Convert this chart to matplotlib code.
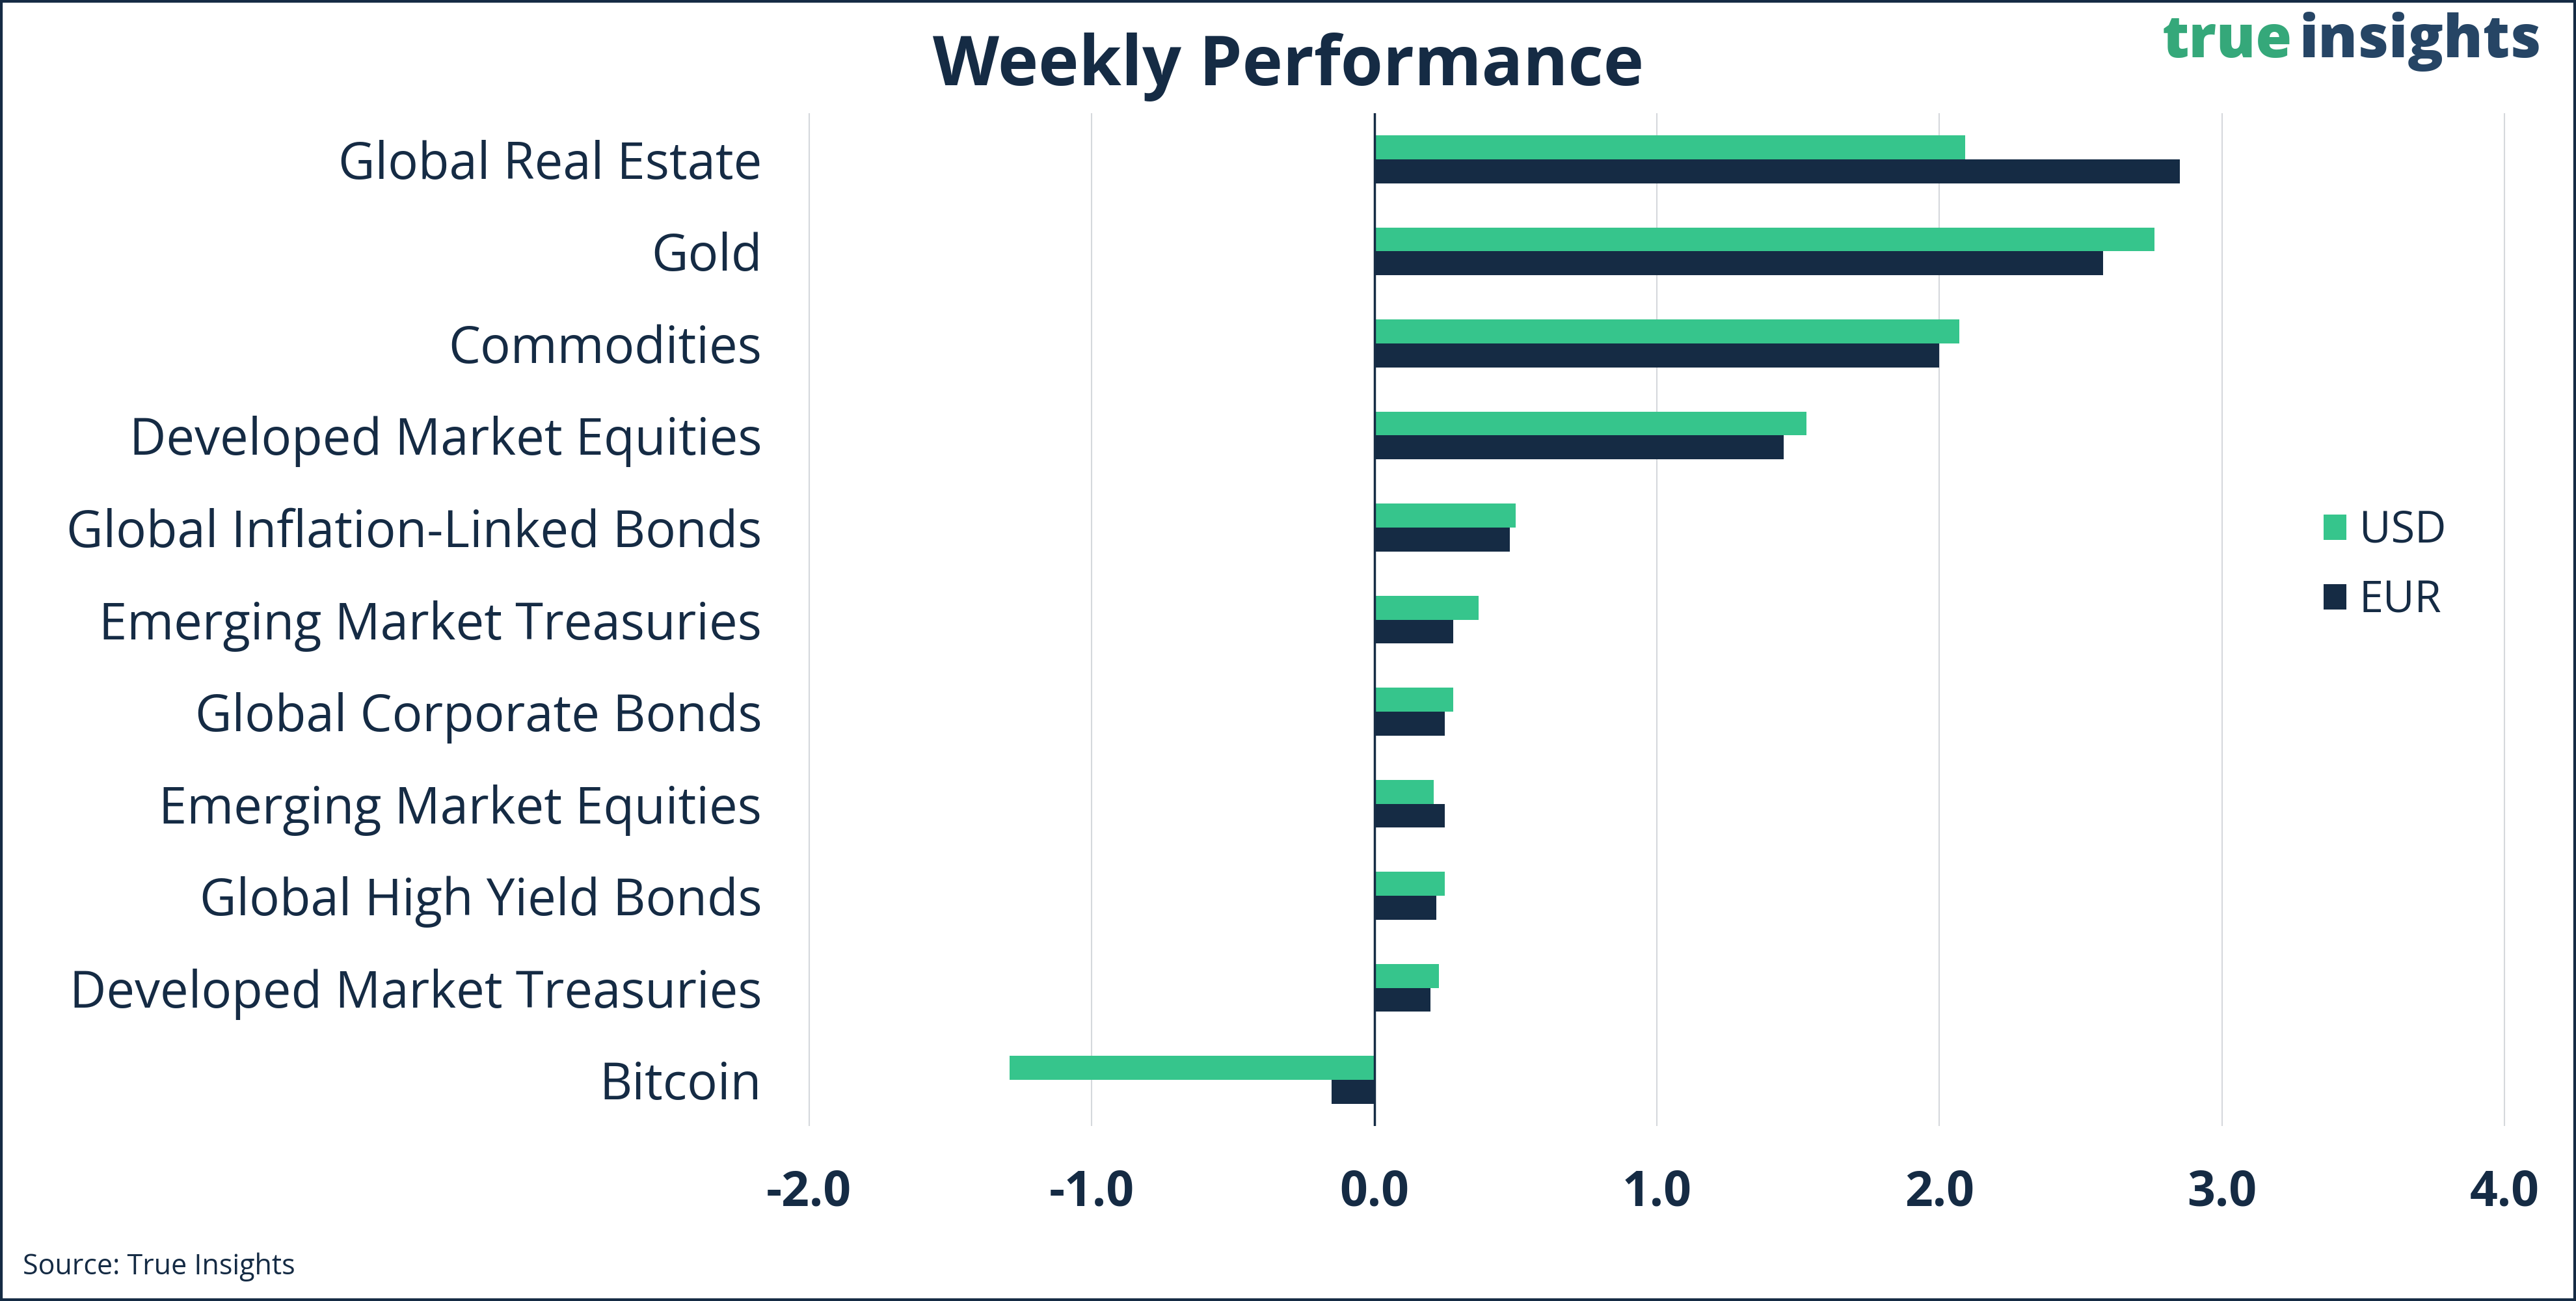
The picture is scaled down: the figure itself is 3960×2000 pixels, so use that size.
import matplotlib
matplotlib.use("Agg")
import matplotlib.pyplot as plt
from matplotlib.patches import Patch, Rectangle
import numpy as np

categories = [
    "Global Real Estate",
    "Gold",
    "Commodities",
    "Developed Market Equities",
    "Global Inflation-Linked Bonds",
    "Emerging Market Treasuries",
    "Global Corporate Bonds",
    "Emerging Market Equities",
    "Global High Yield Bonds",
    "Developed Market Treasuries",
    "Bitcoin",
]
usd = [2.09, 2.76, 2.07, 1.53, 0.50, 0.37, 0.28, 0.21, 0.25, 0.23, -1.29]
eur = [2.85, 2.58, 2.00, 1.45, 0.48, 0.28, 0.25, 0.25, 0.22, 0.20, -0.15]
series_names = ["USD", "EUR"]
xticks = [-2, -1, 0, 1, 2, 3, 4]
xtick_labels = ["-2.0", "-1.0", "0.0", "1.0", "2.0", "3.0", "4.0"]

GREEN = "#36C58C"
NAVY = "#152B44"
LOGO_GREEN = "#35A87A"
LOGO_NAVY = "#264565"

plt.rcParams["font.family"] = ["Open Sans", "DejaVu Sans"]

W, H = 3960, 2000
fig = plt.figure(figsize=(W / 100, H / 100), dpi=100)
fig.patch.set_facecolor("white")

ax = fig.add_axes([1242 / W, 1 - 1731 / H, (3852 - 1242) / W, (1731 - 174) / H])
y = np.arange(len(categories))
h = 0.26
ax.barh(y - h / 2, usd, height=h, color=GREEN, label=series_names[0], zorder=3)
ax.barh(y + h / 2, eur, height=h, color=NAVY, label=series_names[1], zorder=3)
ax.set_ylim(len(categories) - 0.5, -0.5)
ax.set_xlim(-2.004, 4.004)
ax.set_xticks(xticks)
ax.set_xticklabels(xtick_labels, fontsize=54, fontweight="bold", color=NAVY)
ax.set_yticks(y)
ax.set_yticklabels(categories, fontsize=56, color=NAVY)
ax.tick_params(axis="both", length=0)
ax.tick_params(axis="x", pad=47)
ax.tick_params(axis="y", pad=51)
for s in ax.spines.values():
    s.set_visible(False)
ax.grid(axis="x", color="#D5D8DC", linewidth=1.5, zorder=0)
ax.grid(axis="y", visible=False)
ax.axvline(0, color=NAVY, linewidth=2.5, zorder=4)

# Title
fig.text(0.5, 1 - 131 / H, "Weekly Performance", ha="center", va="baseline",
         fontsize=76, fontweight="bold", color=NAVY)

# Logo
fig.text(3324 / W, 1 - 88 / H, "true", ha="left", va="baseline",
         fontsize=65, fontweight="heavy", color=LOGO_GREEN)
fig.text(3907 / W, 1 - 88 / H, "insights", ha="right", va="baseline",
         fontsize=65, fontweight="heavy", color=LOGO_NAVY)

# Source
fig.text(35 / W, 1 - 1959 / H, "Source: True Insights", ha="left", va="baseline",
         fontsize=31, color=NAVY)

# Legend
handles = [Patch(facecolor=GREEN, label=series_names[0]),
           Patch(facecolor=NAVY, label=series_names[1])]
fig.legend(handles=handles, loc="center left", bbox_to_anchor=(3572 / W, 1 - 870 / H),
           frameon=False, fontsize=48, handlelength=0.52, handleheight=0.52,
           handletextpad=0.3, labelspacing=0.6, borderpad=0, borderaxespad=0,
           labelcolor=NAVY)

# Border
fig.patches.append(Rectangle((0, 0), 1, 1, transform=fig.transFigure, fill=False,
                             edgecolor=NAVY, linewidth=6, zorder=10))

fig.savefig("out.png", dpi=100, facecolor="white")
